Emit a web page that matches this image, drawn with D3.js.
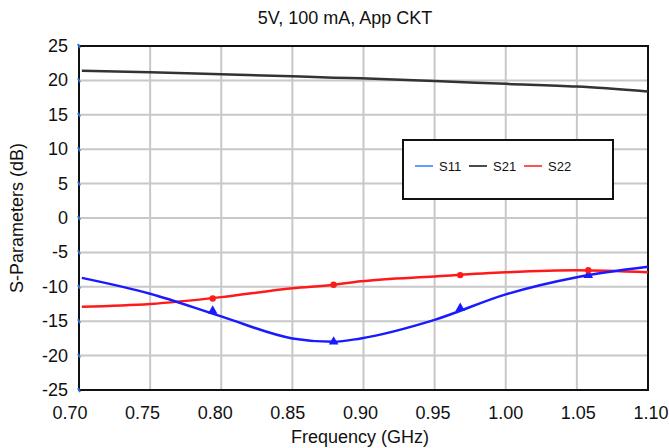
<!DOCTYPE html>
<html><head><meta charset="utf-8">
<script src="https://cdn.jsdelivr.net/npm/d3@7/dist/d3.min.js"></script>
<style>body{margin:0;background:#fff;}svg{display:block;font-family:"Liberation Sans",Arial,sans-serif;}</style>
</head><body>
<svg id="c" width="669" height="448"></svg>
<script>
const title = "5V, 100 mA, App CKT";
const xTitle = "Frequency (GHz)";
const yTitle = "S-Parameters (dB)";
const xTicks = [0.70,0.75,0.80,0.85,0.90,0.95,1.00,1.05,1.10];
const yTicks = [25,20,15,10,5,0,-5,-10,-15,-20,-25];
const seriesNames = ["S11","S21","S22"];
const freq = [0.702,0.75,0.80,0.85,0.879,0.898,0.95,1.00,1.05,1.10];
const s11 = [-8.7,-11.0,-14.3,-17.5,-18.0,-17.5,-14.8,-11.1,-8.6,-7.1];
const s21 = [21.4,21.2,20.9,20.6,20.4,20.3,19.9,19.5,19.1,18.4];
const s22 = [-12.9,-12.5,-11.5,-10.2,-9.7,-9.2,-8.5,-7.9,-7.6,-7.9];
const markFreq = [0.794,0.879,0.968,1.058];
const s11Marks = [-13.5,-18.0,-13.1,-8.3];
const s22Marks = [-11.7,-9.7,-8.3,-7.6];

const svg = d3.select("#c");
const L=79, R=648, T=46, B=390;
const x = d3.scaleLinear().domain([0.70,1.10]).range([L,R]);
const xl = d3.scaleLinear().domain([0.70,1.10]).range([70,651]);
const y = d3.scaleLinear().domain([-25,25]).range([B,T]);

// grid
svg.append("g").selectAll("line").data(xTicks).join("line")
  .attr("x1",d=>x(d)).attr("x2",d=>x(d)).attr("y1",T).attr("y2",B)
  .attr("stroke","#c8c8c8").attr("stroke-width",2);
svg.append("g").selectAll("line").data(yTicks).join("line")
  .attr("x1",L).attr("x2",R).attr("y1",d=>y(d)).attr("y2",d=>y(d))
  .attr("stroke","#c8c8c8").attr("stroke-width",2);

// frame
svg.append("rect").attr("x",L).attr("y",T).attr("width",R-L).attr("height",B-T)
  .attr("fill","none").attr("stroke","#111").attr("stroke-width",2);

// left axis ticks (blue dots)
svg.append("g").selectAll("line").data(yTicks).join("line")
  .attr("x1",L-1).attr("x2",L+1).attr("y1",d=>y(d)-2).attr("y2",d=>y(d)+2)
  .attr("stroke","#2a6fd6").attr("stroke-width",2);

// tick labels
svg.append("g").selectAll("text").data(xTicks).join("text")
  .attr("x",d=>xl(d)).attr("y",419).attr("text-anchor","middle")
  .attr("font-size",18).attr("fill","#111").text(d=>d.toFixed(2));
svg.append("g").selectAll("text").data(yTicks).join("text")
  .attr("x",68).attr("y",d=>y(d)+6).attr("text-anchor","end")
  .attr("font-size",18).attr("fill","#111").text(d=>d);

// titles
svg.append("text").attr("x",345).attr("y",24).attr("text-anchor","middle")
  .attr("font-size",18).attr("fill","#111").text(title);
svg.append("text").attr("x",360).attr("y",443).attr("text-anchor","middle")
  .attr("font-size",18).attr("fill","#111").text(xTitle);
svg.append("text").attr("transform","translate(23,218) rotate(-90)").attr("text-anchor","middle")
  .attr("font-size",18).attr("fill","#111").text(yTitle);

// lines
const line = d3.line().x(d=>x(d[0])).y(d=>y(d[1])).curve(d3.curveMonotoneX);
const plot = svg.append("g");
const colors = {S11:"#1a1aff", S21:"#333", S22:"#ff1a1a"};
const data = {S11:s11, S21:s21, S22:s22};
["S21","S22","S11"].forEach(k=>{
  plot.append("path").datum(freq.map((f,i)=>[f,data[k][i]]))
    .attr("d",line).attr("fill","none").attr("stroke",colors[k]).attr("stroke-width",2.5);
});
// markers
const tri = d3.symbol().type(d3.symbolTriangle).size(40);
plot.append("g").selectAll("path").data(markFreq.map((f,i)=>[f,s11Marks[i]])).join("path")
  .attr("d",tri).attr("transform",d=>`translate(${x(d[0])},${y(d[1])})`).attr("fill","#1a1aff");
plot.append("g").selectAll("circle").data(markFreq.map((f,i)=>[f,s22Marks[i]])).join("circle")
  .attr("cx",d=>x(d[0])).attr("cy",d=>y(d[1])).attr("r",3.2).attr("fill","#ff1a1a");

// legend
const lg = svg.append("g");
lg.append("rect").attr("x",403).attr("y",140).attr("width",210).attr("height",59)
  .attr("fill","#fff").attr("stroke","#111").attr("stroke-width",2);
const legColors = ["#2f7bff","#111","#ff1a1a"];
const legX = [415,469,524];
seriesNames.forEach((n,i)=>{
  lg.append("line").attr("x1",legX[i]).attr("x2",legX[i]+18).attr("y1",166).attr("y2",166)
    .attr("stroke",legColors[i]).attr("stroke-width",1.5);
  lg.append("text").attr("x",legX[i]+24).attr("y",170.5).attr("font-size",13).attr("fill","#111").text(n);
});
</script>
</body></html>
